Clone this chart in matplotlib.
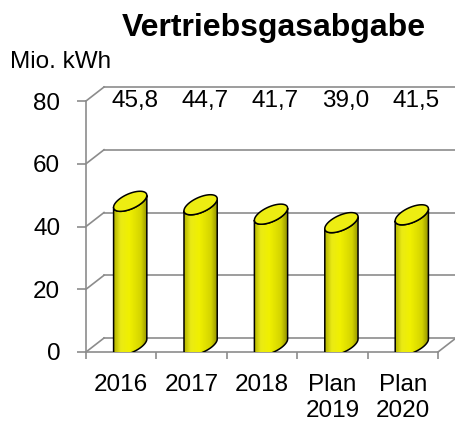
import matplotlib.pyplot as plt
import numpy as np
from matplotlib.patches import Polygon

plt.rcParams['font.family'] = ['Liberation Sans', 'DejaVu Sans']

categories = ['2016', '2017', '2018', 'Plan\n2019', 'Plan\n2020']
values = [45.8, 44.7, 41.7, 39.0, 41.5]
value_labels = ['45,8', '44,7', '41,7', '39,0', '41,5']
yticks = [0, 20, 40, 60, 80]

GRID = '#8c8c8c'
FS = 17.5
# depth of the pseudo-3d box in data units
dx, dy = 0.256, 4.46
# cylinder ellipse params (data units)
rx, ux, vy = 0.19, 0.14, 3.2

fig = plt.figure(figsize=(4.56, 4.24), dpi=100)
ax = fig.add_axes([86/456, 72/424, 352/456, 251/424])
ax.set_xlim(0, 5)
ax.set_ylim(0, 80)

# back wall grid + left wall slants
for t in yticks:
    ax.plot([dx, 5 + dx], [t + dy, t + dy], color=GRID, lw=1.2, clip_on=False, zorder=1)
    ax.plot([0, dx], [t, t + dy], color=GRID, lw=1.2, clip_on=False, zorder=1)
ax.plot([5, 5 + dx], [0, dy], color=GRID, lw=1.2, clip_on=False, zorder=1)

stops = [0.0, 0.2, 0.45, 0.8, 1.0]
cols = np.array([[0.70, 0.70, 0.0], [0.92, 0.92, 0.08], [0.94, 0.94, 0.0],
                 [0.83, 0.83, 0.0], [0.55, 0.55, 0.0]])
g = np.linspace(0, 1, 200)
grad = np.stack([np.interp(g, stops, cols[:, k]) for k in range(3)], axis=-1)[None, :, :]

th_r = np.arctan2(ux, rx)
half_w = np.hypot(rx, ux)

def ell(cx, cy, th):
    return cx + rx * np.cos(th) + ux * np.sin(th), cy + vy * np.sin(th)

for i, v in enumerate(values):
    cx = i + 0.5 + dx / 2
    cy = dy / 2
    th_front = np.linspace(th_r + np.pi, th_r + 2 * np.pi, 60)
    bx, by = ell(cx, cy, th_front)
    tx, ty = ell(cx, cy + v, th_front)
    px = np.concatenate([tx, bx[::-1]])
    py = np.concatenate([ty, by[::-1]])
    body = Polygon(np.column_stack([px, py]), closed=True, facecolor='none',
                   edgecolor='black', lw=1.1, zorder=4)
    ax.add_patch(body)
    im = ax.imshow(grad, extent=[cx - half_w, cx + half_w, 0, 80], aspect='auto', zorder=3)
    im.set_clip_path(body)
    th_all = np.linspace(0, 2 * np.pi, 120)
    ex, ey = ell(cx, cy + v, th_all)
    ax.add_patch(Polygon(np.column_stack([ex, ey]), closed=True, facecolor='#eded12',
                         edgecolor='black', lw=1.1, zorder=5))
    ax.text(i + 0.69, 80, value_labels[i], ha='center', va='center', fontsize=FS, zorder=6)

ax.set_xlim(0, 5)
ax.set_ylim(0, 80)

for s in ['top', 'right']:
    ax.spines[s].set_visible(False)
for s in ['left', 'bottom']:
    ax.spines[s].set_color(GRID)
    ax.spines[s].set_linewidth(1.2)

ax.set_yticks(yticks)
ax.tick_params(axis='y', length=6.5, width=1.2, color=GRID, pad=12, labelsize=FS)
ax.set_xticks(range(6))
ax.set_xticklabels([])
ax.set_xticks(np.arange(5) + 0.5, minor=True)
ax.set_xticklabels(categories, minor=True, fontsize=FS, linespacing=1.25, va='top')
ax.tick_params(axis='x', which='major', length=5, width=1.2, color=GRID)
ax.tick_params(axis='x', which='minor', length=0, pad=15.5)

fig.text(274/456, 1 - 28/424, 'Vertriebsgasabgabe', ha='center', va='center',
         fontsize=23, fontweight='bold')
fig.text(10/456, 1 - 62/424, 'Mio. kWh', ha='left', va='center', fontsize=FS)

fig.savefig('out.png', dpi=100)
